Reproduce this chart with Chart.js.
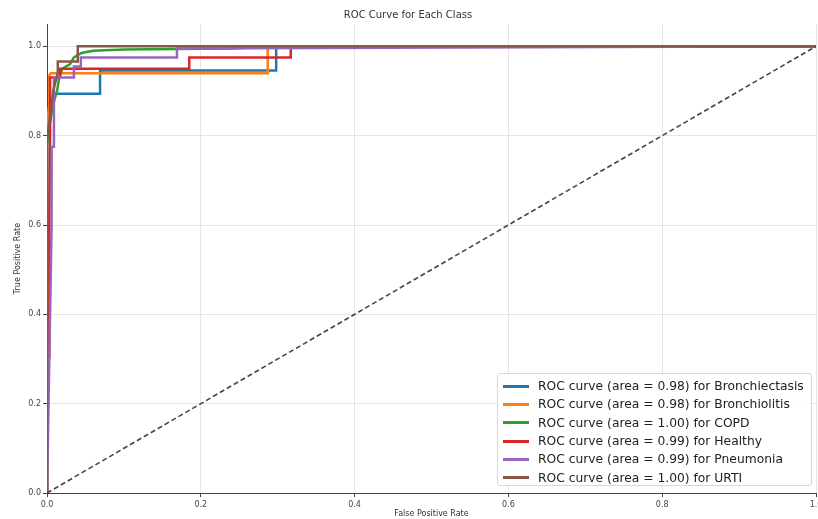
<!DOCTYPE html>
<html>
<head>
<meta charset="utf-8">
<script src="https://cdn.jsdelivr.net/npm/chart.js@4/dist/chart.umd.min.js"></script>
<style>
  html, body { margin: 0; padding: 0; background: #fff; }
  #wrap { position: relative; width: 818px; height: 519px; overflow: hidden; }
  #legend {
    position: absolute; left: 497px; top: 373px; width: 315px; height: 113px;
    border: 1px solid #d8d8d8; border-radius: 3px; background: rgba(255,255,255,0.85);
    font-family: 'DejaVu Sans', sans-serif; font-size: 12.3px; color: #222;
    box-sizing: border-box; padding: 3px 0 0 5px;
  }
  .row { display: flex; align-items: center; height: 18.3px; white-space: nowrap; }
  .swatch { width: 26px; height: 3px; margin-right: 9px; flex: none; }
</style>
</head>
<body>
<div id="wrap">
  <canvas id="roc" width="818" height="519"></canvas>
  <div id="legend"></div>
</div>
<script>
const classNames = ['Bronchiectasis', 'Bronchiolitis', 'COPD', 'Healthy', 'Pneumonia', 'URTI'];
const aucValues = ['0.98', '0.98', '1.00', '0.99', '0.99', '1.00'];
const lineColors = ['#1f77b4', '#ff7f0e', '#2ca02c', '#d62728', '#9467bd', '#8c564b'];

// fpr / tpr
const bronchiectasisFpr = [0, 0, 0.004, 0.010, 0.069, 0.069, 0.298, 0.298, 1];
const bronchiectasisTpr = [0, 0.80, 0.85, 0.894, 0.894, 0.946, 0.946, 1.0, 1];
const bronchiolitisFpr = [0, 0, 0.003, 0.003, 0.005, 0.287, 0.287, 1];
const bronchiolitisTpr = [0, 0.83, 0.87, 0.935, 0.94, 0.94, 1.0, 1];
const copdFpr = [0, 0, 0.003, 0.008, 0.013, 0.016, 0.020, 0.030, 0.035, 0.045, 0.060, 0.100, 0.240, 0.300, 1];
const copdTpr = [0, 0.78, 0.82, 0.87, 0.90, 0.93, 0.95, 0.96, 0.975, 0.985, 0.99, 0.993, 0.995, 1.0, 1];
const healthyFpr = [0, 0, 0.003, 0.003, 0.004, 0.004, 0.017, 0.017, 0.185, 0.185, 0.317, 0.317, 1];
const healthyTpr = [0, 0.305, 0.305, 0.62, 0.80, 0.93, 0.93, 0.95, 0.95, 0.975, 0.975, 1.0, 1];
const pneumoniaFpr = [0, 0.006, 0.006, 0.009, 0.009, 0.035, 0.035, 0.044, 0.044, 0.169, 0.169, 1];
const pneumoniaTpr = [0, 0.60, 0.775, 0.775, 0.93, 0.93, 0.955, 0.955, 0.975, 0.975, 0.995, 1];
const urtiFpr = [0, 0, 0.005, 0.008, 0.014, 0.014, 0.040, 0.040, 1];
const urtiTpr = [0, 0.80, 0.85, 0.90, 0.94, 0.966, 0.966, 1.0, 1];

const chanceLine = [0, 1];
const xTicks = [0, 0.2, 0.4, 0.6, 0.8, 1.0];
const yTicks = [0, 0.2, 0.4, 0.6, 0.8, 1.0];

const curves = [
  [bronchiectasisFpr, bronchiectasisTpr],
  [bronchiolitisFpr, bronchiolitisTpr],
  [copdFpr, copdTpr],
  [healthyFpr, healthyTpr],
  [pneumoniaFpr, pneumoniaTpr],
  [urtiFpr, urtiTpr]
];

const toPoints = (xs, ys) => xs.map((x, i) => ({ x: x, y: ys[i] }));

const datasets = curves.map((c, i) => ({
  label: 'ROC curve (area = ' + aucValues[i] + ') for ' + classNames[i],
  data: toPoints(c[0], c[1]),
  borderColor: lineColors[i],
  borderWidth: 2.5,
  pointRadius: 0,
  tension: 0,
  order: 10 - i // later classes drawn on top, like matplotlib
}));

datasets.push({
  label: 'chance',
  data: toPoints(chanceLine, chanceLine),
  borderColor: '#444',
  borderWidth: 1.6,
  borderDash: [5, 3],
  pointRadius: 0,
  order: 0
});

const tickFont = { family: 'DejaVu Sans', size: 8 };

new Chart(document.getElementById('roc'), {
  type: 'line',
  data: { datasets },
  options: {
    responsive: false,
    animation: false,
    layout: { padding: { left: 0, right: 2, top: 0, bottom: 0 } },
    plugins: {
      legend: { display: false },
      tooltip: { enabled: false },
      title: {
        display: true,
        text: 'ROC Curve for Each Class',
        color: '#333',
        font: { family: 'DejaVu Sans', size: 10, weight: 'normal' },
        padding: { top: 9, bottom: 3 }
      }
    },
    scales: {
      x: {
        type: 'linear',
        min: 0, max: 1,
        afterBuildTicks: s => { s.ticks = xTicks.map(v => ({ value: v })); },
        afterFit: s => { s.height = 26; s.paddingLeft = 0; s.paddingRight = 0; },
        ticks: { font: tickFont, color: '#444', padding: 3, maxRotation: 0, callback: v => v.toFixed(1) },
        grid: { color: '#e6e6e6', tickColor: '#444', tickLength: 4 },
        border: { color: '#444', width: 1 },
        title: { display: true, text: 'False Positive Rate', color: '#333', font: tickFont, padding: { top: 1, bottom: 0 } }
      },
      y: {
        type: 'linear',
        min: 0, max: 1.05,
        afterBuildTicks: s => { s.ticks = yTicks.map(v => ({ value: v })); },
        afterFit: s => { s.width = 47; },
        ticks: { font: tickFont, color: '#444', padding: 2, callback: v => v.toFixed(1) },
        grid: { color: '#e6e6e6', tickColor: '#444', tickLength: 4 },
        border: { color: '#444', width: 1 },
        title: { display: true, text: 'True Positive Rate', color: '#333', font: tickFont, padding: { top: 13, bottom: 0 } }
      }
    }
  }
});

document.getElementById('legend').innerHTML = classNames.map((name, i) => `
  <div class="row"><span class="swatch" style="background:${lineColors[i]}"></span>ROC curve (area = ${aucValues[i]}) for ${name}</div>`).join('');
</script>
</body>
</html>
